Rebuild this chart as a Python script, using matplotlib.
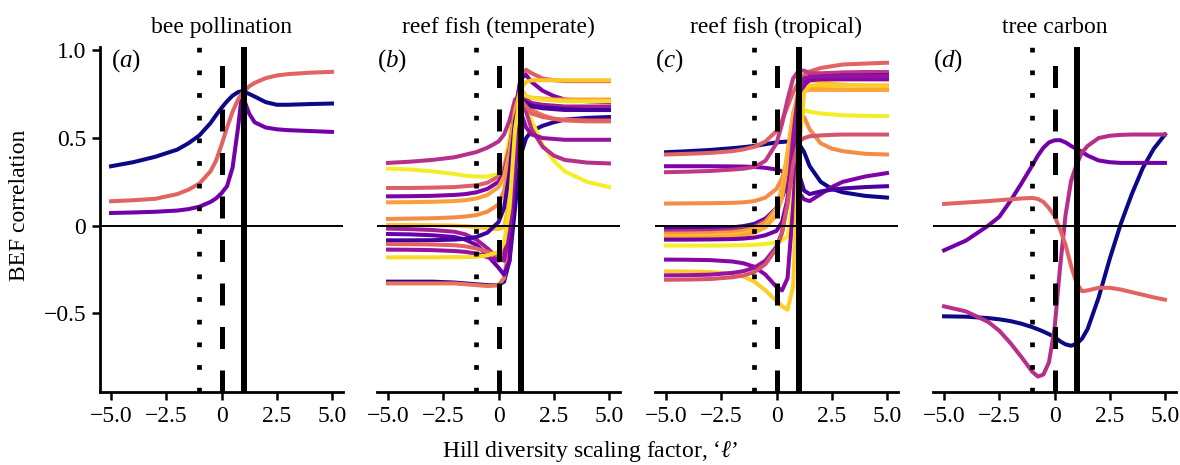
import matplotlib
matplotlib.use('Agg')

import matplotlib.pyplot as plt

plt.rcParams['font.family'] = ['Liberation Serif', 'DejaVu Serif']
plt.rcParams['mathtext.fontset'] = 'custom'
plt.rcParams['mathtext.rm'] = 'Liberation Serif'
plt.rcParams['mathtext.it'] = 'Liberation Serif:italic'

titles = ['bee pollination', 'reef fish (temperate)', 'reef fish (tropical)', 'tree carbon']
letters = ['a', 'b', 'c', 'd']

# (a) bee pollination
ell_a = [-5, -4, -3, -2, -1.5, -1, -0.5, -0.25, 0, 0.25, 0.5, 0.75, 0.9, 1, 1.25, 1.5, 2, 2.5, 3, 4, 5]
bee = [
    [0.339, 0.362, 0.393, 0.434, 0.47, 0.515, 0.585, 0.63, 0.672, 0.71, 0.742, 0.762, 0.767, 0.765, 0.752, 0.737, 0.705, 0.69, 0.69, 0.694, 0.697],
    [0.072, 0.075, 0.079, 0.086, 0.094, 0.108, 0.135, 0.155, 0.185, 0.225, 0.33, 0.56, 0.72, 0.725, 0.64, 0.59, 0.56, 0.55, 0.545, 0.54, 0.535],
    [0.139, 0.145, 0.153, 0.18, 0.205, 0.24, 0.31, 0.37, 0.46, 0.56, 0.65, 0.72, 0.75, 0.765, 0.795, 0.815, 0.842, 0.857, 0.865, 0.873, 0.878],
]
bee_col = [0.0, 0.22, 0.6]

# (b) reef fish, temperate  and  (c) reef fish, tropical
ell_bc = [-5, -4, -3, -2, -1.5, -1, -0.5, 0, 0.25, 0.5, 0.75, 1, 1.25, 1.5, 2, 2.5, 3, 4, 5]
temperate = [
    [-0.32, -0.32, -0.32, -0.325, -0.33, -0.335, -0.34, -0.34, -0.32, -0.2, 0.1, 0.40, 0.50, 0.54, 0.57, 0.59, 0.605, 0.615, 0.62],
    [-0.33, -0.33, -0.33, -0.33, -0.335, -0.34, -0.345, -0.34, -0.3, -0.1, 0.4, 0.72, 0.7, 0.66, 0.63, 0.61, 0.60, 0.595, 0.595],
    [0.326, 0.32, 0.31, 0.295, 0.285, 0.28, 0.28, 0.295, 0.34, 0.5, 0.72, 0.74, 0.68, 0.6, 0.46, 0.37, 0.31, 0.25, 0.22],
    [0.358, 0.365, 0.375, 0.39, 0.405, 0.42, 0.445, 0.48, 0.52, 0.6, 0.72, 0.74, 0.65, 0.55, 0.45, 0.40, 0.375, 0.36, 0.355],
    [0.215, 0.215, 0.217, 0.22, 0.225, 0.23, 0.245, 0.28, 0.33, 0.45, 0.65, 0.83, 0.89, 0.87, 0.84, 0.83, 0.825, 0.825, 0.825],
    [0.167, 0.168, 0.17, 0.175, 0.18, 0.19, 0.21, 0.25, 0.3, 0.42, 0.65, 0.84, 0.86, 0.82, 0.77, 0.74, 0.72, 0.71, 0.705],
    [0.133, 0.134, 0.136, 0.14, 0.145, 0.155, 0.175, 0.22, 0.28, 0.42, 0.66, 0.78, 0.74, 0.73, 0.725, 0.72, 0.72, 0.72, 0.72],
    [0.038, 0.04, 0.042, 0.047, 0.052, 0.06, 0.08, 0.12, 0.2, 0.38, 0.62, 0.74, 0.71, 0.69, 0.68, 0.675, 0.67, 0.67, 0.67],
    [0.004, 0.003, 0.002, 0.0, -0.003, -0.008, -0.015, -0.02, -0.01, 0.15, 0.55, 0.78, 0.82, 0.83, 0.83, 0.83, 0.83, 0.83, 0.83],
    [-0.017, -0.02, -0.025, -0.035, -0.05, -0.08, -0.13, -0.19, -0.2, -0.05, 0.45, 0.74, 0.72, 0.7, 0.69, 0.685, 0.68, 0.68, 0.68],
    [-0.048, -0.05, -0.055, -0.065, -0.08, -0.11, -0.17, -0.24, -0.28, -0.2, 0.3, 0.72, 0.70, 0.68, 0.67, 0.665, 0.66, 0.66, 0.66],
    [-0.084, -0.084, -0.083, -0.08, -0.075, -0.065, -0.04, 0.02, 0.1, 0.3, 0.6, 0.72, 0.70, 0.685, 0.675, 0.67, 0.665, 0.66, 0.66],
    [-0.105, -0.106, -0.108, -0.112, -0.118, -0.13, -0.15, -0.17, -0.15, 0.0, 0.45, 0.72, 0.68, 0.64, 0.62, 0.61, 0.605, 0.6, 0.6],
    [-0.137, -0.138, -0.14, -0.145, -0.15, -0.16, -0.18, -0.2, -0.18, 0.0, 0.4, 0.65, 0.56, 0.52, 0.5, 0.495, 0.49, 0.49, 0.49],
    [-0.181, -0.181, -0.181, -0.18, -0.18, -0.178, -0.17, -0.15, -0.1, 0.1, 0.55, 0.76, 0.74, 0.73, 0.72, 0.715, 0.71, 0.71, 0.71],
]
temperate_col = [0.05, 0.65, 0.97, 0.42, 0.58, 0.25, 0.78, 0.72, 0.88, 0.35, 0.2, 0.1, 0.6, 0.32, 0.93]

tropical = [
    [0.419, 0.425, 0.432, 0.442, 0.448, 0.455, 0.465, 0.475, 0.478, 0.48, 0.48, 0.47, 0.42, 0.34, 0.25, 0.21, 0.19, 0.17, 0.16],
    [0.406, 0.41, 0.415, 0.425, 0.435, 0.45, 0.48, 0.54, 0.6, 0.68, 0.76, 0.82, 0.86, 0.88, 0.9, 0.91, 0.92, 0.925, 0.93],
    [0.339, 0.339, 0.339, 0.338, 0.337, 0.335, 0.33, 0.32, 0.31, 0.29, 0.25, 0.19, 0.15, 0.14, 0.18, 0.22, 0.25, 0.28, 0.30],
    [0.305, 0.308, 0.312, 0.32, 0.325, 0.335, 0.37, 0.47, 0.58, 0.72, 0.84, 0.885, 0.885, 0.87, 0.87, 0.872, 0.875, 0.877, 0.877],
    [0.126, 0.127, 0.128, 0.13, 0.133, 0.14, 0.16, 0.21, 0.27, 0.37, 0.52, 0.64, 0.62, 0.55, 0.47, 0.44, 0.425, 0.41, 0.406],
    [-0.019, -0.018, -0.016, -0.01, -0.003, 0.01, 0.04, 0.1, 0.16, 0.25, 0.35, 0.3, 0.2, 0.18, 0.195, 0.205, 0.212, 0.22, 0.225],
    [-0.032, -0.031, -0.03, -0.025, -0.018, -0.005, 0.03, 0.1, 0.2, 0.38, 0.6, 0.76, 0.82, 0.84, 0.845, 0.847, 0.847, 0.847, 0.847],
    [-0.046, -0.045, -0.043, -0.038, -0.03, -0.015, 0.02, 0.1, 0.22, 0.42, 0.64, 0.76, 0.79, 0.785, 0.78, 0.778, 0.777, 0.777, 0.777],
    [-0.061, -0.06, -0.058, -0.053, -0.045, -0.03, 0.0, 0.08, 0.2, 0.4, 0.62, 0.78, 0.83, 0.83, 0.82, 0.81, 0.805, 0.80, 0.80],
    [-0.07, -0.069, -0.067, -0.062, -0.055, -0.04, -0.01, 0.06, 0.16, 0.35, 0.58, 0.74, 0.77, 0.775, 0.775, 0.775, 0.775, 0.775, 0.775],
    [-0.08, -0.08, -0.079, -0.077, -0.074, -0.068, -0.055, -0.03, 0.02, 0.15, 0.45, 0.74, 0.82, 0.84, 0.85, 0.855, 0.857, 0.858, 0.86],
    [-0.114, -0.114, -0.114, -0.113, -0.112, -0.11, -0.105, -0.095, -0.085, -0.06, 0.15, 0.55, 0.66, 0.65, 0.64, 0.635, 0.63, 0.627, 0.625],
    [-0.194, -0.195, -0.197, -0.205, -0.215, -0.235, -0.28, -0.35, -0.37, -0.3, 0.1, 0.6, 0.8, 0.83, 0.835, 0.835, 0.835, 0.835, 0.835],
    [-0.261, -0.262, -0.265, -0.275, -0.29, -0.32, -0.37, -0.43, -0.46, -0.48, -0.35, 0.4, 0.76, 0.8, 0.8, 0.8, 0.8, 0.8, 0.8],
    [-0.284, -0.283, -0.28, -0.27, -0.26, -0.24, -0.2, -0.12, -0.04, 0.15, 0.5, 0.78, 0.84, 0.85, 0.852, 0.853, 0.853, 0.853, 0.853],
    [-0.309, -0.308, -0.305, -0.295, -0.285, -0.265, -0.22, -0.13, -0.04, 0.12, 0.35, 0.48, 0.5, 0.51, 0.515, 0.518, 0.52, 0.52, 0.52],
]
tropical_col = [0.0, 0.6, 0.25, 0.45, 0.72, 0.12, 0.4, 0.75, 0.87, 0.8, 0.22, 0.97, 0.28, 0.9, 0.32, 0.55]

# (d) tree carbon
ell_d = [-5, -4, -3, -2.5, -2, -1.5, -1, -0.75, -0.5, -0.25, 0, 0.25, 0.5, 0.75, 1, 1.25, 1.5, 2, 2.5, 3, 3.5, 4, 4.5, 5]
trees = [
    [-0.518, -0.52, -0.528, -0.535, -0.545, -0.56, -0.58, -0.592, -0.605, -0.62, -0.635, -0.66, -0.678, -0.686, -0.675, -0.645, -0.59, -0.41, -0.19, 0.01, 0.18, 0.33, 0.44, 0.52],
    [-0.141, -0.085, 0.0, 0.05, 0.14, 0.24, 0.345, 0.4, 0.445, 0.475, 0.487, 0.488, 0.475, 0.455, 0.438, 0.42, 0.4, 0.372, 0.362, 0.358, 0.358, 0.358, 0.358, 0.358],
    [-0.461, -0.49, -0.55, -0.6, -0.67, -0.75, -0.835, -0.862, -0.85, -0.78, -0.59, -0.24, 0.06, 0.255, 0.35, 0.418, 0.455, 0.5, 0.513, 0.518, 0.52, 0.52, 0.52, 0.52],
    [0.124, 0.132, 0.14, 0.145, 0.15, 0.155, 0.158, 0.152, 0.135, 0.1, 0.055, -0.02, -0.11, -0.23, -0.33, -0.375, -0.37, -0.355, -0.355, -0.365, -0.38, -0.395, -0.41, -0.423],
]
trees_col = [0.0, 0.22, 0.42, 0.6]

panels = [(ell_a, bee, bee_col), (ell_bc, temperate, temperate_col),
          (ell_bc, tropical, tropical_col), (ell_d, trees, trees_col)]

fig = plt.figure(figsize=(11.8, 4.65), dpi=100)
lefts = [100, 377, 655, 933]

for i, (xs, curves, cols) in enumerate(panels):
    ax = fig.add_axes([lefts[i] / 1180, 0.157, 243 / 1180, 0.742])
    for y, c in zip(curves, cols):
        ax.plot(xs, y, color=plt.cm.plasma(c), lw=2.9, zorder=2)
    # reference lines sit on top of the curves
    ax.axhline(0, color='black', lw=1.4, zorder=3)
    ax.axvline(-1, color='black', lw=3.4, ls=(0, (1, 3.8)), zorder=3)
    ax.axvline(0, color='black', lw=3.6, ls=(0, (4.4, 4.3)), zorder=3)
    ax.axvline(1, color='black', lw=4.3, zorder=3)

    ax.set_xlim(-5.5, 5.5)
    ax.set_ylim(-0.95, 1.02)
    ax.set_xticks([-5, -2.5, 0, 2.5, 5])
    ax.set_xticklabels(['\u22125.0', '\u22122.5', '0', '2.5', '5.0'])
    ax.tick_params(labelsize=17, width=1.8, length=6, pad=4)
    for s in ['top', 'right']:
        ax.spines[s].set_visible(False)
    ax.spines['bottom'].set_linewidth(2)
    if i == 0:
        ax.set_yticks([-0.5, 0, 0.5, 1.0])
        ax.set_yticklabels(['\u22120.5', '0', '0.5', '1.0'])
        ax.spines['left'].set_linewidth(2)
        lx = 0.045
    else:
        ax.set_yticks([])
        ax.spines['left'].set_visible(False)
        lx = 0.0
    ax.set_title(titles[i], fontsize=17, pad=10)
    ax.text(lx, 1.0, '($' + letters[i] + '$)', transform=ax.transAxes,
            fontsize=18, va='top', ha='left')

fig.text(20 / 1180, 1 - 205 / 465, 'BEF correlation', rotation=90,
         fontsize=17, ha='center', va='center')
fig.text(0.5, 1 - 451 / 465, 'Hill diversity scaling factor, \u2018$\\ell$\u2019',
         fontsize=17, ha='center', va='center')

plt.savefig('out.png', dpi=100)
